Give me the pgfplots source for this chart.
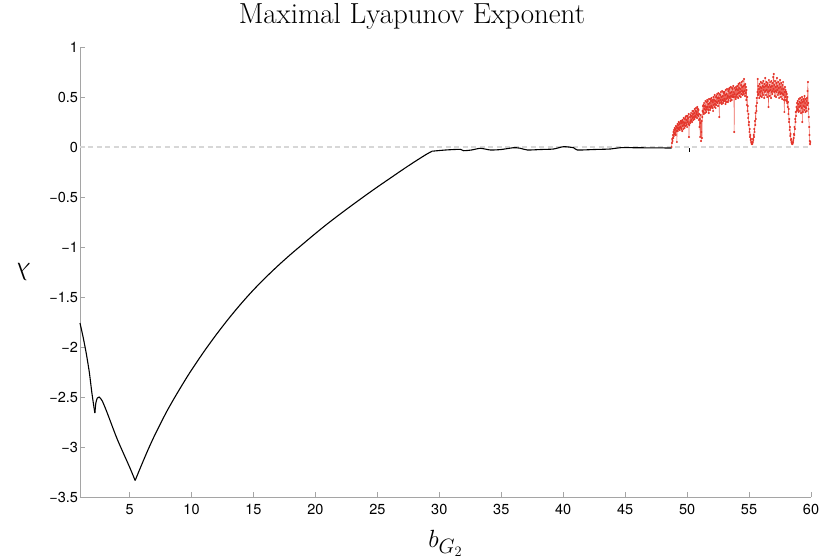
\documentclass[border=0pt]{standalone}
\usepackage{fontspec}
\usepackage{pgfplots}
\pgfplotsset{compat=1.18}
\newfontfamily\ticksf{TeX Gyre Heros}
\definecolor{mred}{RGB}{228,52,42}
\definecolor{lred}{RGB}{236,100,90}
\definecolor{axgray}{RGB}{165,165,165}
\definecolor{zgray}{RGB}{215,215,215}
\begin{document}
\begin{tikzpicture}
\begin{axis}[
  scale only axis, width=731pt, height=450pt,
  xmin=1, xmax=60, ymin=-3.5, ymax=1,
  axis x line*=bottom, axis y line*=left,
  axis line style={axgray, line width=0.6pt, -},
  tick align=inside, major tick length=5pt,
  tick style={axgray, line width=0.6pt},
  xtick={5,10,...,60}, ytick={-3.5,-3,...,1},
  yticklabels={−3.5,−3,−2.5,−2,−1.5,−1,−0.5,0,0.5,1},
  /pgf/number format/assume math mode=true,
  ticklabel style={font=\ticksf\fontsize{14.5}{17}\selectfont},
  xticklabel style={yshift=-4pt},
  yticklabel style={xshift=1.5pt},
  title={Maximal Lyapunov Exponent},
  title style={font=\fontsize{29}{33}\selectfont, at={(axis description cs:0.454,1.038)}, anchor=base},
  xlabel={$b_{G_2}$},
  xlabel style={font=\fontsize{28}{32}\selectfont, at={(axis description cs:0.5,-0.113)}, anchor=base},
  ylabel={$\lambda$},
  ylabel style={font=\fontsize{28}{32}\selectfont, at={(axis description cs:-0.0766,0.5)}, anchor=center, rotate=90},
  clip=false,
]
\addplot[zgray, line width=1.1pt, dash pattern=on 5pt off 3.5pt] coordinates {(1,0) (60,0)};
\addplot[black, line width=1.1pt, smooth, tension=0.3] coordinates {
(1.00,-1.76) (1.25,-1.90) (1.50,-2.06) (1.75,-2.25) (1.95,-2.45) (2.10,-2.58) (2.20,-2.66)
};
\addplot[black, line width=1.1pt, smooth, tension=0.4] coordinates {
(2.20,-2.66) (2.28,-2.56) (2.40,-2.51) (2.55,-2.50) (2.80,-2.54) (3.20,-2.66) (4.00,-2.92) (5.00,-3.20) (5.45,-3.335)
};
\addplot[black, line width=1.1pt, smooth, tension=0.5] coordinates {
(5.45,-3.335) (6.0,-3.17) (6.5,-3.025) (7.0,-2.89) (7.5,-2.765) (8.0,-2.645) (8.5,-2.535) (9.0,-2.43)
(9.5,-2.328) (10,-2.23) (11,-2.047) (12,-1.876) (13,-1.716) (14,-1.567) (15,-1.429) (16,-1.303)
(17,-1.185) (18,-1.074) (19,-0.969) (20,-0.865) (21,-0.765) (22,-0.670) (23,-0.578) (24,-0.488)
(25,-0.400) (26,-0.315) (27,-0.230) (28,-0.148) (29,-0.070) (29.43,-0.042)
};
\addplot[black, line width=1.1pt, smooth, tension=0.4] coordinates {
(29.43,-0.042) (30.50,-0.030) (31.71,-0.023) (31.95,-0.037) (32.60,-0.030) (33.32,-0.013) (34.13,-0.030)
(35.00,-0.025) (35.99,-0.007) (36.50,-0.012) (37.12,-0.030) (38.20,-0.025) (39.22,-0.020) (40.02,0.003)
(40.83,-0.007) (41.15,-0.030) (42.50,-0.025) (43.82,-0.020) (44.62,-0.007) (46.50,-0.008) (48.75,-0.010)
};
\addplot[black, line width=1.1pt] coordinates {(50.2,-0.01) (50.2,-0.05)};
\addplot[lred, line width=0.5pt, mark=*, mark size=0.75pt, mark options={fill=mred, draw=mred}] coordinates {
(48.750,0.00) (48.775,0.04) (48.800,0.08) (48.825,0.06) (48.850,0.12) (48.875,0.09) (48.900,0.15) (48.925,0.11)
(48.950,0.17) (48.975,0.13) (49.000,0.19) (49.025,0.14) (49.050,0.18) (49.075,0.12) (49.100,0.21) (49.125,0.16)
(49.150,0.20) (49.175,0.05) (49.200,0.19) (49.225,0.23) (49.250,0.16) (49.275,0.22) (49.300,0.18) (49.325,0.25)
(49.350,0.19) (49.375,0.23) (49.400,0.17) (49.425,0.24) (49.450,0.20) (49.475,0.26) (49.500,0.19)
(49.525,0.26) (49.550,0.18) (49.575,0.24) (49.600,0.16) (49.625,0.27) (49.650,0.21) (49.675,0.25) (49.700,0.18)
(49.725,0.29) (49.750,0.22) (49.775,0.24) (49.800,0.19) (49.825,0.28) (49.850,0.21) (49.875,0.30) (49.900,0.24)
(49.925,0.31) (49.950,0.22) (49.975,0.27) (50.000,0.20) (50.025,0.31) (50.050,0.25) (50.075,0.29) (50.100,0.23)
(50.125,0.33) (50.150,0.10) (50.175,0.22) (50.225,0.30) (50.250,0.24) (50.275,0.32) (50.300,0.26) (50.325,0.34)
(50.350,0.27) (50.375,0.31) (50.400,0.25) (50.425,0.36) (50.450,0.29) (50.475,0.33) (50.500,0.27)
(50.525,0.36) (50.550,0.30) (50.575,0.34) (50.600,0.28) (50.625,0.38) (50.650,0.31) (50.675,0.36) (50.700,0.30)
(50.725,0.39) (50.750,0.33) (50.775,0.35) (50.800,0.29) (50.825,0.40) (50.850,0.32) (50.875,0.38) (50.900,0.31)
(50.925,0.37) (50.950,0.27) (50.975,0.33) (51.000,0.20) (51.025,0.28) (51.050,0.10) (51.075,0.24) (51.100,0.32)
(51.125,0.06) (51.150,0.15) (51.175,0.26) (51.200,0.09) (51.225,0.30) (51.250,0.36)
(51.275,0.41) (51.300,0.35) (51.325,0.42) (51.350,0.33) (51.375,0.44) (51.400,0.38) (51.425,0.41) (51.450,0.34)
(51.475,0.46) (51.500,0.37) (51.525,0.40) (51.550,0.35) (51.575,0.45) (51.600,0.38) (51.625,0.47) (51.650,0.40)
(51.675,0.46) (51.700,0.37) (51.725,0.43) (51.750,0.34) (51.775,0.48) (51.800,0.40) (51.825,0.44) (51.850,0.37)
(51.875,0.48) (51.900,0.39) (51.925,0.46) (51.950,0.41) (51.975,0.49) (52.000,0.40)
(52.025,0.47) (52.050,0.39) (52.075,0.45) (52.100,0.36) (52.125,0.50) (52.150,0.42) (52.175,0.47) (52.200,0.40)
(52.225,0.52) (52.250,0.43) (52.275,0.46) (52.300,0.39) (52.325,0.50) (52.350,0.42) (52.375,0.51) (52.400,0.45)
(52.425,0.53) (52.450,0.44) (52.475,0.49) (52.500,0.41) (52.525,0.54) (52.550,0.46) (52.575,0.49) (52.600,0.30)
(52.625,0.53) (52.650,0.44) (52.675,0.52) (52.700,0.47) (52.725,0.55) (52.750,0.45) (52.775,0.50) (52.800,0.43)
(52.825,0.56) (52.850,0.47) (52.875,0.51) (52.900,0.44) (52.925,0.55) (52.950,0.46) (52.975,0.54) (53.000,0.48)
(53.025,0.55) (53.050,0.46) (53.075,0.52) (53.100,0.43) (53.125,0.57) (53.150,0.48) (53.175,0.53) (53.200,0.45)
(53.225,0.58) (53.250,0.49) (53.275,0.51) (53.300,0.45) (53.325,0.56) (53.350,0.47) (53.375,0.58) (53.400,0.50)
(53.425,0.59) (53.450,0.49) (53.475,0.54) (53.500,0.46) (53.525,0.60) (53.550,0.51) (53.575,0.55) (53.600,0.47)
(53.625,0.59) (53.650,0.50) (53.675,0.58) (53.700,0.52) (53.725,0.61) (53.750,0.50) (53.775,0.55) (53.800,0.15)
(53.825,0.53) (53.850,0.59) (53.875,0.50) (53.900,0.57) (53.925,0.48) (53.950,0.60) (53.975,0.52) (54.000,0.58)
(54.025,0.50) (54.050,0.61) (54.075,0.53) (54.100,0.57) (54.125,0.49) (54.150,0.63) (54.175,0.54) (54.200,0.59)
(54.225,0.51) (54.250,0.64) (54.275,0.55) (54.300,0.58) (54.325,0.50) (54.350,0.62) (54.375,0.53) (54.400,0.65)
(54.425,0.56) (54.450,0.60) (54.475,0.52) (54.500,0.66) (54.525,0.55) (54.550,0.61) (54.575,0.53) (54.600,0.68)
(54.625,0.56) (54.650,0.62) (54.675,0.51) (54.700,0.63) (54.725,0.54) (54.750,0.60) (54.775,0.47) (54.800,0.57)
(54.825,0.42) (54.850,0.50) (54.875,0.36) (54.900,0.41) (54.925,0.29) (54.950,0.33) (54.975,0.22) (55.000,0.25)
(55.025,0.15) (55.050,0.18) (55.075,0.10) (55.100,0.12) (55.125,0.07) (55.150,0.08) (55.175,0.05) (55.200,0.04)
(55.225,0.03) (55.250,0.03) (55.275,0.04) (55.300,0.05) (55.325,0.08) (55.350,0.07) (55.375,0.12) (55.400,0.10)
(55.425,0.18) (55.450,0.15) (55.475,0.26) (55.500,0.22) (55.525,0.34) (55.550,0.28) (55.575,0.41) (55.600,0.36)
(55.625,0.49) (55.650,0.44) (55.675,0.55) (55.700,0.68)
(55.725,0.52) (55.750,0.61) (55.775,0.53) (55.800,0.58) (55.825,0.49) (55.850,0.63) (55.875,0.55) (55.900,0.60)
(55.925,0.51) (55.950,0.65) (55.975,0.56) (56.000,0.59) (56.025,0.50) (56.050,0.64) (56.075,0.54) (56.100,0.61)
(56.125,0.52) (56.150,0.66) (56.175,0.57) (56.200,0.60) (56.225,0.49) (56.250,0.63) (56.275,0.55) (56.300,0.69)
(56.325,0.56) (56.350,0.61) (56.375,0.52) (56.400,0.65) (56.425,0.57) (56.450,0.62) (56.475,0.50) (56.500,0.64)
(56.525,0.55) (56.550,0.60) (56.575,0.40) (56.600,0.67) (56.625,0.56) (56.650,0.62) (56.675,0.51) (56.700,0.65)
(56.725,0.57) (56.750,0.60) (56.775,0.49) (56.800,0.66) (56.825,0.55) (56.850,0.61) (56.875,0.53) (56.900,0.64)
(56.925,0.56) (56.950,0.70) (56.975,0.58) (57.000,0.73) (57.025,0.55) (57.050,0.62) (57.075,0.51) (57.100,0.66)
(57.125,0.56) (57.150,0.60) (57.175,0.50) (57.200,0.64) (57.225,0.55) (57.250,0.69) (57.275,0.57) (57.300,0.61)
(57.325,0.52) (57.350,0.65) (57.375,0.54) (57.400,0.59) (57.425,0.49) (57.450,0.63) (57.475,0.55) (57.500,0.67)
(57.525,0.53) (57.550,0.60) (57.575,0.50) (57.600,0.64) (57.625,0.54) (57.650,0.58) (57.675,0.48) (57.700,0.62)
(57.725,0.53) (57.750,0.65) (57.775,0.52) (57.800,0.58) (57.825,0.47) (57.850,0.35) (57.875,0.55) (57.900,0.60)
(57.925,0.50) (57.950,0.57) (57.975,0.47) (58.000,0.55) (58.025,0.46) (58.050,0.53) (58.075,0.44) (58.100,0.50)
(58.125,0.40) (58.150,0.45) (58.175,0.33) (58.200,0.38) (58.225,0.25) (58.250,0.28) (58.275,0.17) (58.300,0.20)
(58.325,0.11) (58.350,0.13) (58.375,0.07) (58.400,0.08) (58.425,0.05) (58.450,0.04) (58.475,0.03) (58.500,0.03)
(58.525,0.04) (58.550,0.05) (58.575,0.07) (58.600,0.09) (58.625,0.13) (58.650,0.12) (58.675,0.20) (58.700,0.18)
(58.725,0.28) (58.750,0.25) (58.775,0.35) (58.800,0.31) (58.825,0.40) (58.850,0.36) (58.875,0.44)
(58.900,0.38) (58.925,0.46) (58.950,0.37) (58.975,0.43) (59.000,0.35) (59.025,0.48) (59.050,0.40) (59.075,0.45)
(59.100,0.36) (59.125,0.49) (59.150,0.41) (59.175,0.44) (59.200,0.34) (59.225,0.47) (59.250,0.39) (59.275,0.50)
(59.300,0.25) (59.325,0.45) (59.350,0.35) (59.375,0.48) (59.400,0.41) (59.425,0.46) (59.450,0.37) (59.475,0.51)
(59.500,0.40) (59.525,0.44) (59.550,0.35) (59.575,0.48) (59.600,0.39) (59.625,0.46) (59.650,0.36) (59.675,0.49)
(59.700,0.42) (59.725,0.56) (59.750,0.65) (59.775,0.44) (59.800,0.38) (59.825,0.30) (59.850,0.20) (59.875,0.12)
(59.900,0.06) (59.925,0.03) (59.950,0.05)
};
\end{axis}
\pgfresetboundingbox
\path ([xshift=-80pt,yshift=-61pt]current axis.south west) rectangle ++(819pt,558pt);
\end{tikzpicture}
\end{document}
